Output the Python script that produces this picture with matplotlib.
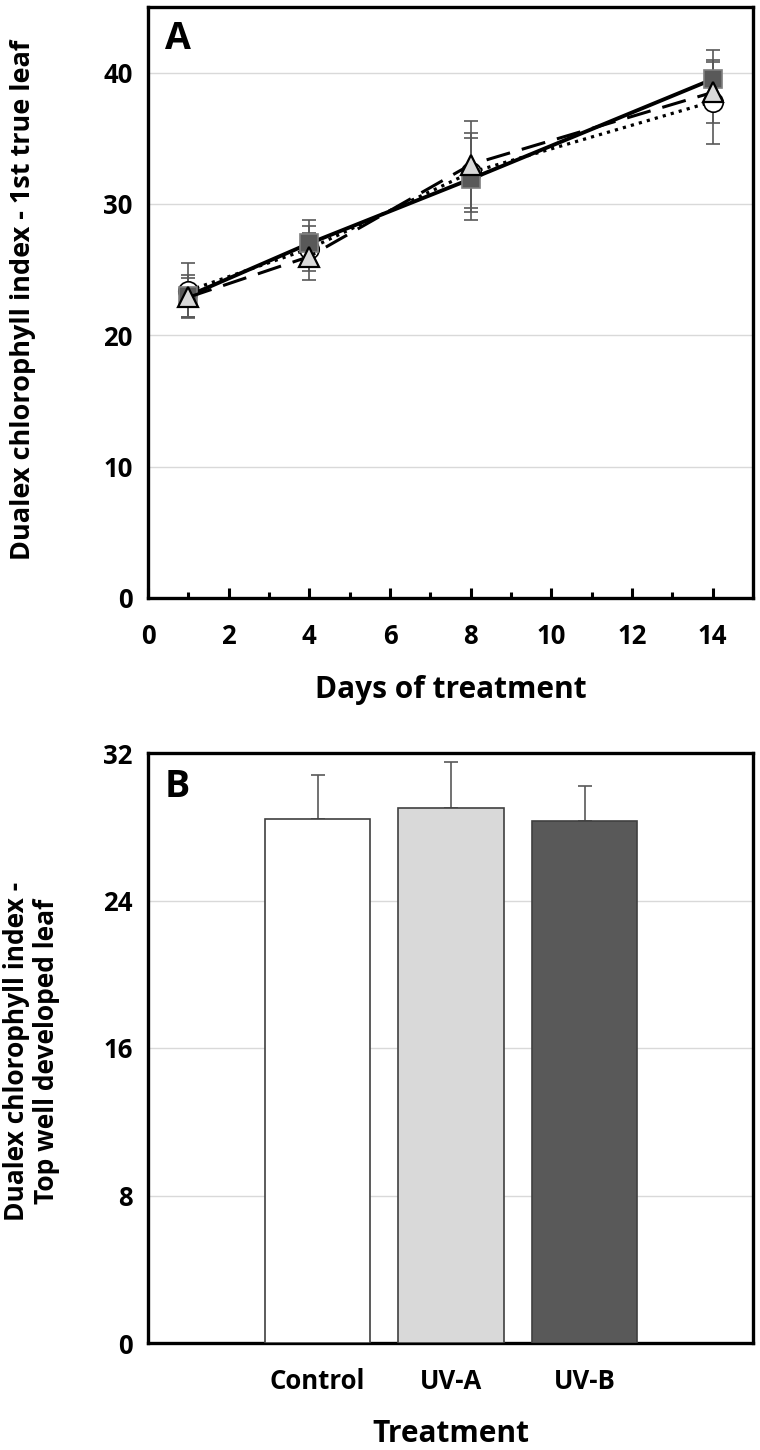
import matplotlib
matplotlib.use("Agg")
import matplotlib.pyplot as plt
from matplotlib.ticker import FixedLocator

plt.rcParams['font.family'] = ['Open Sans', 'DejaVu Sans']
plt.rcParams['font.weight'] = 'bold'

# ---- Panel A data ----
days = [1, 4, 8, 14]
control_a = [23.4, 26.6, 32.4, 37.8]
control_a_err = [2.1, 1.7, 3.0, 3.2]
uva_a = [22.9, 26.0, 33.0, 38.5]
uva_a_err = [1.5, 1.8, 3.3, 2.3]
uvb_a = [23.0, 27.0, 31.9, 39.5]
uvb_a_err = [1.6, 1.8, 3.1, 2.2]
xticks_a = [0, 2, 4, 6, 8, 10, 12, 14]
yticks_a = [0, 10, 20, 30, 40]

# ---- Panel B data ----
treatments = ["Control", "UV-A", "UV-B"]
values_b = [28.4, 29.0, 28.3]
errors_b = [2.4, 2.5, 1.9]
yticks_b = [0, 8, 16, 24, 32]

W, H = 760, 1450
fig = plt.figure(figsize=(W / 100, H / 100), dpi=100)

def frac(x0, y0, x1, y1):
    return [x0 / W, 1 - y1 / H, (x1 - x0) / W, (y1 - y0) / H]

axA = fig.add_axes(frac(148, 7, 753, 598))
axB = fig.add_axes(frac(148, 753, 753, 1343))

errc = '#595959'
for vals, errs in [(control_a, control_a_err), (uva_a, uva_a_err), (uvb_a, uvb_a_err)]:
    axA.errorbar(days, vals, yerr=errs, fmt='none', ecolor=errc,
                 elinewidth=1.2, capsize=5, capthick=1.2, zorder=2)

axA.plot(days, control_a, linestyle=(0, (1, 1.6)), color='black', lw=2.3,
         marker='o', markersize=14, markerfacecolor='white',
         markeredgecolor='black', markeredgewidth=1.2, zorder=3)
axA.plot(days, uvb_a, linestyle='-', color='black', lw=2.8,
         marker='s', markersize=13, markerfacecolor='#595959',
         markeredgecolor='#7f7f7f', markeredgewidth=1.2, zorder=4)
axA.plot(days, uva_a, linestyle=(0, (8, 4)), color='black', lw=2.2,
         marker='^', markersize=14, markerfacecolor='#d9d9d9',
         markeredgecolor='black', markeredgewidth=1.6, zorder=5)

axA.set_xlim(0, 15)
axA.set_ylim(0, 45)
axA.xaxis.set_major_locator(FixedLocator(xticks_a))
axA.xaxis.set_minor_locator(FixedLocator([1, 3, 5, 7, 9, 11, 13]))
axA.yaxis.set_major_locator(FixedLocator(yticks_a))
axA.tick_params(axis='x', which='major', direction='in', length=7, width=2.2,
                labelsize=18.5, pad=18)
axA.tick_params(axis='x', which='minor', direction='in', length=4.5, width=2.2)
axA.tick_params(axis='y', length=0, labelsize=18.5, pad=11)
axA.grid(axis='y', color='#d9d9d9', lw=1.0, zorder=0)
axA.set_axisbelow(True)
for s in axA.spines.values():
    s.set_linewidth(2.4)
axA.set_xlabel("Days of treatment", fontsize=21.5, fontweight='bold', labelpad=18)
axA.set_ylabel("Dualex chlorophyll index - 1st true leaf", fontsize=19.5,
               fontweight='bold', va='center')
axA.yaxis.set_label_coords(-0.207, 0.504)
axA.text(0.028, 0.978, "A", transform=axA.transAxes, fontsize=27,
         fontweight='bold', va='top', ha='left')

# ---- Panel B ----
xpos = list(range(len(treatments)))
axB.bar(xpos, values_b, width=0.79,
        color=['white', '#d9d9d9', '#595959'], edgecolor='#404040',
        linewidth=1.2, zorder=3)
axB.errorbar(xpos, values_b, yerr=[[0] * 3, errors_b], fmt='none',
             ecolor=errc, elinewidth=1.2, capsize=5, capthick=1.2, zorder=2)
axB.set_xlim(-1.27, 3.26)
axB.set_ylim(0, 32)
axB.set_xticks(xpos)
axB.set_xticklabels(treatments)
axB.yaxis.set_major_locator(FixedLocator(yticks_b))
axB.tick_params(axis='x', length=0, labelsize=18.5, pad=18)
axB.tick_params(axis='y', length=0, labelsize=18.5, pad=11)
axB.grid(axis='y', color='#d9d9d9', lw=1.0, zorder=0)
axB.set_axisbelow(True)
for s in axB.spines.values():
    s.set_linewidth(2.4)
axB.set_xlabel("Treatment", fontsize=21.5, fontweight='bold', labelpad=17)
axB.set_ylabel("Dualex chlorophyll index -\nTop well developed leaf",
               fontsize=19, fontweight='bold', linespacing=1.15, va='center')
axB.yaxis.set_label_coords(-0.193, 0.495)
axB.text(0.028, 0.975, "B", transform=axB.transAxes, fontsize=27,
         fontweight='bold', va='top', ha='left')

fig.savefig("out.png", dpi=100)
